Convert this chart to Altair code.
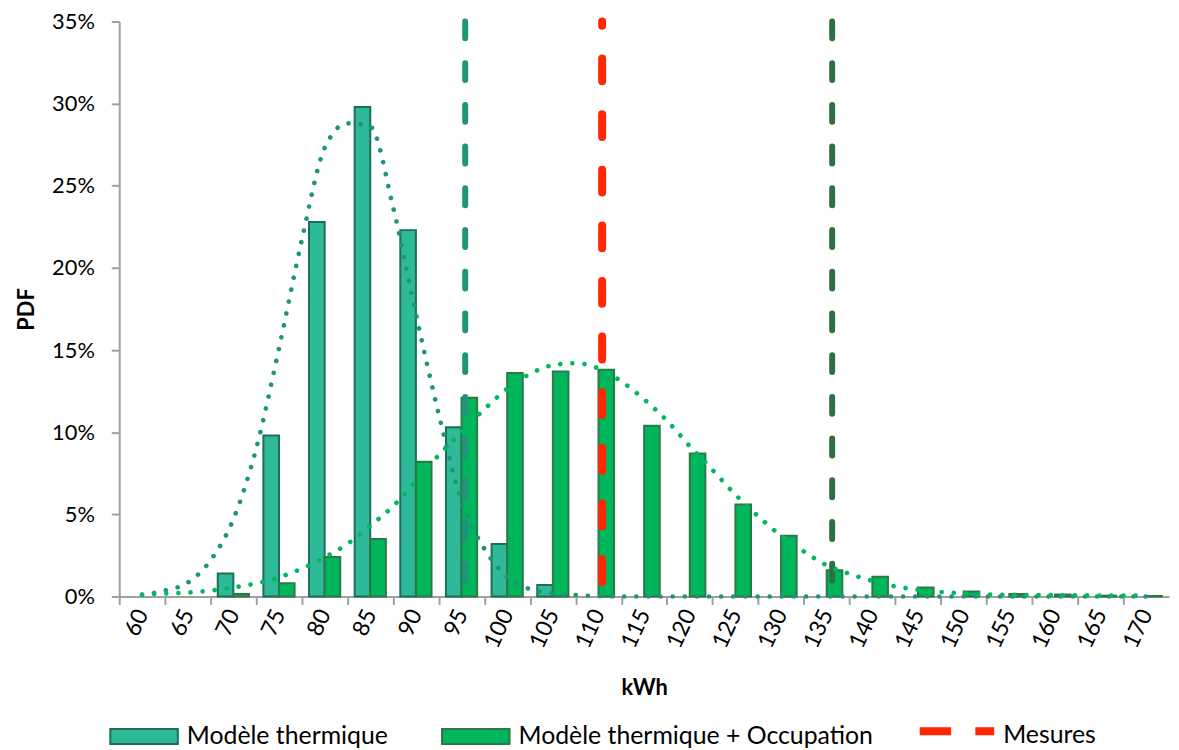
import altair as alt
import pandas as pd

# ---------------- data ----------------
kwh = [60, 65, 70, 75, 80, 85, 90, 95, 100, 105, 110, 115, 120, 125, 130, 135, 140, 145, 150, 155, 160, 165, 170]
series_names = ["Modèle thermique", "Modèle thermique + Occupation"]
pdf_thermique = [0, 0, 1.4, 9.8, 22.8, 29.8, 22.3, 10.3, 3.2, 0.7, 0, 0, 0, 0, 0, 0, 0, 0, 0, 0, 0, 0, 0]
pdf_occupation = [0, 0, 0.15, 0.8, 2.4, 3.5, 8.2, 12.1, 13.6, 13.7, 13.8, 10.4, 8.7, 5.6, 3.7, 1.6, 1.2,
                  0.55, 0.3, 0.15, 0.12, 0.05, 0.03]

fit_kwh = [60, 62.5, 65, 67.5, 70, 72.5, 75, 77.5, 80, 82.5, 85, 87.5, 90, 92.5, 95, 97.5, 100, 102.5,
           105, 107.5, 110, 112.5, 115, 117.5, 120, 122.5, 125, 127.5, 130, 132.5, 135, 137.5, 140,
           142.5, 145, 147.5, 150, 152.5, 155, 157.5, 160, 162.5, 165, 167.5, 170]
fit_thermique = [0.1, 0.36, 0.84, 2.2, 4.7, 9.0, 15.1, 21.7, 27.3, 28.8, 28.6, 23.7, 17.2, 11.1, 5.8, 2.9,
                 1.2, 0.45, 0.2, 0.08, 0.03, 0, 0, 0, 0, 0, 0, 0, 0, 0, 0, 0, 0, 0, 0, 0, 0, 0, 0, 0,
                 0, 0, 0, 0, 0]
fit_occupation = [0.12, 0.18, 0.24, 0.36, 0.55, 0.8, 1.17, 1.7, 2.38, 3.2, 4.3, 5.5, 7.0, 8.6, 10.0, 11.4,
                  12.65, 13.55, 14.08, 14.2, 13.88, 13.1, 12.0, 10.7, 9.15, 7.7, 6.2, 4.88, 3.7, 2.74,
                  1.9, 1.38, 0.95, 0.62, 0.41, 0.28, 0.18, 0.12, 0.1, 0.09, 0.08, 0.07, 0.06, 0.05, 0.05]

mesure_label = "Mesures"
mesure_kwh = [110.4]
borne_basse_kwh = [95.4]
borne_haute_kwh = [135.6]
y_ticks = [0, 5, 10, 15, 20, 25, 30, 35]

# ---------------- tables ----------------
bars_df = pd.DataFrame({
    "kwh": kwh * 2,
    "serie": [series_names[0]] * len(kwh) + [series_names[1]] * len(kwh),
    "pdf": pdf_thermique + pdf_occupation,
})
fit_df = pd.DataFrame({"kwh": fit_kwh, "thermique": fit_thermique, "occupation": fit_occupation})

# ---------------- styles ----------------
W, H = 1057, 579
half_band = W / 23 / 2
FONT = "Lato"
AX = "#A0A0A0"

xscale = alt.Scale(domain=[57.5, 172.5], nice=False, zero=False)
yscale = alt.Scale(domain=[0, 35], nice=False)

xaxis = alt.Axis(values=kwh, tickOffset=-half_band, labelOffset=half_band, labelAngle=-65,
                 labelAlign="right", labelBaseline="middle", labelPadding=6, tickSize=8,
                 labelFlush=False, labelOverlap=False, grid=False,
                 labelFont=FONT, labelFontSize=23, labelColor="#000000",
                 titleFont=FONT, titleFontSize=22, titleFontWeight="bold", titleColor="#000000",
                 titleX=W / 2, titleY=92, titleAlign="center", titleBaseline="middle",
                 domainColor=AX, domainWidth=2, tickColor=AX, tickWidth=2)
yaxis = alt.Axis(values=y_ticks, labelExpr="datum.value + '%'", tickSize=8, labelPadding=17,
                 grid=False, labelFont=FONT, labelFontSize=22, labelColor="#000000",
                 titleFont=FONT, titleFontSize=22, titleFontWeight="bold", titleColor="#000000",
                 titleX=-93, titleY=H / 2, titleAngle=-90, titleAlign="center", titleBaseline="middle",
                 domainColor=AX, domainWidth=2, tickColor=AX, tickWidth=2)

leg_bars = alt.Legend(title=None, orient="none", legendX=-10, legendY=685, direction="horizontal",
                      symbolType="M-1,-0.22H1V0.22H-1Z", symbolSize=4624, symbolStrokeWidth=2,
                      labelFont=FONT, labelFontSize=25, labelColor="#000000", labelOffset=8,
                      labelLimit=600, columnPadding=50)
leg_mes = alt.Legend(title=None, orient="none", legendX=802, legendY=677,
                     symbolType="M-1,-0.1L1,-0.1", symbolSize=5625, symbolStrokeWidth=8,
                     symbolDash=[31.6, 24.4], labelFont=FONT, labelFontSize=25,
                     labelColor="#000000", labelOffset=5, labelLimit=600)


def xenc(field):
    return alt.X(field, scale=xscale, axis=xaxis, title="kWh")


def yenc(field):
    return alt.Y(field, scale=yscale, axis=yaxis, title="PDF")


# ---------------- layers ----------------
bars = alt.Chart(bars_df).transform_filter("datum.pdf > 0").transform_calculate(
    x0="datum.serie == 'Modèle thermique' ? datum.kwh - 1.71 : datum.kwh",
    x1="datum.serie == 'Modèle thermique' ? datum.kwh : datum.kwh + 1.71",
    base="0",
).mark_bar(strokeWidth=2).encode(
    x=xenc("x0:Q"),
    x2="x1:Q",
    y=yenc("pdf:Q"),
    y2="base:Q",
    fill=alt.Fill("serie:N", scale=alt.Scale(domain=series_names, range=["#2EBA99", "#00B65C"]),
                  legend=leg_bars),
    stroke=alt.Stroke("serie:N", scale=alt.Scale(domain=series_names, range=["#1C6E5A", "#2E7846"]),
                      legend=leg_bars),
)


def side_rule(values, color):
    return alt.Chart(pd.DataFrame({"kwh": values})).mark_rule(
        strokeWidth=6, strokeDash=[17, 25], strokeCap="round", color=color
    ).encode(x=xenc("kwh:Q"), y=alt.datum(35), y2=alt.datum(0))


rule_low = side_rule(borne_basse_kwh, "#1F9479")
rule_high = side_rule(borne_haute_kwh, "#2F6F42")
rule_mes = alt.Chart(pd.DataFrame({"kwh": mesure_kwh, "serie": [mesure_label]})).mark_rule(
    strokeWidth=8, strokeDash=[23, 33], strokeDashOffset=18.7, strokeCap="round"
).encode(
    x=xenc("kwh:Q"), y=alt.datum(35), y2=alt.datum(0),
    color=alt.Color("serie:N", scale=alt.Scale(domain=[mesure_label], range=["#FF2600"]), legend=leg_mes),
)

curve_t = alt.Chart(fit_df).mark_line(
    interpolate="monotone", strokeWidth=4.7, strokeCap="round", strokeDash=[0.01, 12.2], color="#1F9479"
).encode(x=xenc("kwh:Q"), y=yenc("thermique:Q"))
curve_o = alt.Chart(fit_df).mark_line(
    interpolate="monotone", strokeWidth=4.7, strokeCap="round", strokeDash=[0.01, 12.2], color="#00B85E"
).encode(x=xenc("kwh:Q"), y=yenc("occupation:Q"))

chart = alt.layer(bars, rule_low, rule_mes, rule_high, curve_t, curve_o).properties(
    width=W, height=H,
    autosize=alt.AutoSizeParams(type="none"),
    padding={"left": 112, "top": 11, "right": 2, "bottom": 152},
).configure_view(stroke=None)

chart.save("out.html", embed_options={"renderer": "svg", "actions": False})
